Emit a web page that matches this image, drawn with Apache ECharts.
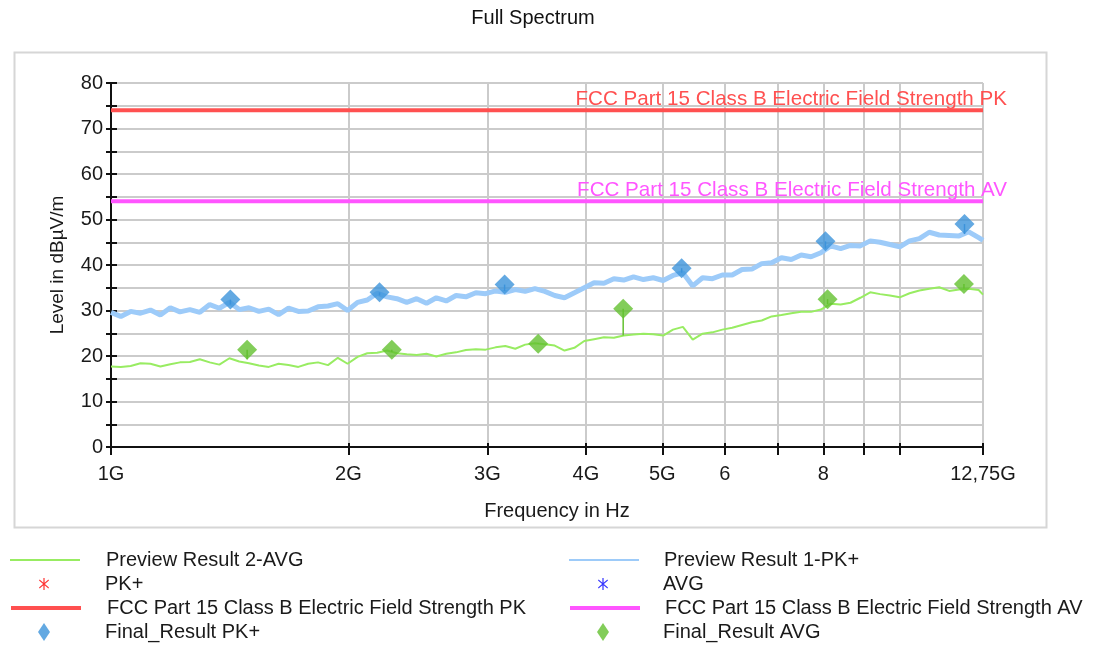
<!DOCTYPE html>
<html>
<head>
<meta charset="utf-8">
<script src="https://cdn.jsdelivr.net/npm/echarts@6/dist/echarts.min.js"></script>
<style>
html,body{margin:0;padding:0;background:#fff;}
#chart{width:1102px;height:647px;}
</style>
</head>
<body>
<div id="chart"></div>
<script>
// ---------- DATA ----------
const freqGHz = [1.000,1.029,1.059,1.090,1.122,1.155,1.189,1.223,1.259,1.296,
1.334,1.372,1.413,1.454,1.496,1.540,1.585,1.631,1.679,1.728,
1.778,1.830,1.884,1.939,1.995,2.054,2.113,2.175,2.239,2.304,
2.371,2.441,2.512,2.585,2.661,2.738,2.818,2.901,2.985,3.073,
3.162,3.255,3.350,3.447,3.548,3.652,3.758,3.868,3.981,4.097,
4.217,4.340,4.467,4.597,4.732,4.870,5.012,5.158,5.309,5.464,
5.623,5.788,5.957,6.131,6.310,6.494,6.683,6.879,7.079,7.286,
7.499,7.718,7.943,8.175,8.414,8.660,8.913,9.173,9.441,9.716,
10.00,10.29,10.59,10.90,11.22,11.55,11.89,12.23,12.59,12.75];

const pkTrace = [29.6,28.7,29.8,29.4,30.1,29.0,30.6,29.7,30.2,29.6,
31.3,30.5,31.8,30.2,30.6,29.8,30.3,29.1,30.5,29.8,
29.9,30.8,31.0,31.5,30.0,31.8,32.3,33.8,33.0,32.6,
31.8,32.6,31.6,32.8,32.1,33.3,33.0,33.9,33.7,34.3,
34.0,34.6,34.2,34.8,34.2,33.3,32.8,33.9,35.0,36.1,
36.0,37.0,36.7,37.4,36.8,37.2,36.6,37.7,38.3,35.4,
37.2,37.0,37.8,37.8,39.0,39.1,40.3,40.5,41.6,41.2,
42.2,41.8,42.7,44.2,43.6,44.3,44.2,45.3,45.0,44.5,
44.0,45.3,45.8,47.2,46.6,46.5,46.4,47.3,46.0,45.4];

const avgTrace = [17.7,17.6,17.8,18.4,18.3,17.7,18.2,18.6,18.7,19.3,
18.6,18.1,19.5,18.8,18.4,17.9,17.6,18.3,18.0,17.6,
18.3,18.6,18.0,19.6,18.3,19.8,20.6,20.7,21.2,20.6,
20.4,20.2,20.5,19.9,20.5,20.8,21.3,21.5,21.4,21.9,
22.2,21.6,22.5,22.8,22.6,22.3,21.2,21.8,23.3,23.7,
24.1,24.0,24.5,24.7,24.9,24.8,24.5,25.8,26.4,23.6,
24.9,25.2,25.8,26.2,26.8,27.4,27.8,28.7,29.0,29.4,
29.7,29.7,30.2,31.5,31.3,31.7,32.8,34.0,33.6,33.3,
32.9,33.8,34.4,34.8,35.1,34.3,34.6,34.8,34.5,33.5];

const finalPkFreq = [1.417, 2.19, 3.155, 5.29, 8.05, 12.08];
const finalPkLevel = [32.4, 34.0, 35.7, 39.3, 45.2, 49.0];
const pkTraceAtFinal = [31.3, 33.3, 34.3, 38.3, 43.6, 46.8];

const finalAvgFreq = [1.488, 2.27, 3.48, 4.46, 8.10, 12.06];
const finalAvgLevel = [21.4, 21.4, 22.7, 30.4, 32.5, 35.8];
const avgTraceAtFinal = [19.3, 20.9, 22.8, 24.5, 31.4, 34.8];

const limitPK = 74;
const limitAV = 54;
const limitPkName = 'FCC Part 15 Class B Electric Field Strength PK';
const limitAvName = 'FCC Part 15 Class B Electric Field Strength AV';

const xMin = 1, xMax = 12.75;
const xTickValues = [1, 2, 3, 4, 5, 6, 7, 8, 9, 10, 12.75];
const xTickLabels = ['1G', '2G', '3G', '4G', '5G', '6', '', '8', '', '', '12,75G'];
const yMin = 0, yMax = 80, yStep = 5;

const legendCol1 = ['Preview Result 2-AVG', 'PK+', limitPkName, 'Final_Result PK+'];
const legendCol2 = ['Preview Result 1-PK+', 'AVG', limitAvName, 'Final_Result AVG'];

// ---------- STYLE ----------
const FONT = 'Liberation Sans, Arial, sans-serif';
const TXT = '#1a1a1a';
const C_PK_TRACE = '#9dcbf9';
const C_AVG_TRACE = '#98ec62';
const C_PK_FINAL = '#3c93db';
const C_AVG_FINAL = '#63c130';
const C_LIM_PK = '#ff5050';
const C_LIM_AV = '#ff55ff';
const ASTERISK = 'path://M4.4,0H5.6V12H4.4Z M0,2.6L0.6,1.6L10,9.4L9.4,10.4Z M0,9.4L9.4,1.6L10,2.6L0.6,10.4Z';
const DIAMOND_LEG = 'path://M6,0L12,9L6,18L0,9Z';
const DIAMOND = 'path://M10,0L20,10L10,20L0,10Z';

const zip = (a, b) => a.map((v, i) => [v, b[i]]);

function stemSeries(freqs, tops, bottoms, color) {
  return {
    type: 'custom',
    silent: true,
    z: 4,
    data: freqs.map((f, i) => [f, tops[i], bottoms[i]]),
    renderItem: function (params, api) {
      const p1 = api.coord([api.value(0), api.value(1)]);
      const p2 = api.coord([api.value(0), api.value(2)]);
      return { type: 'line', shape: { x1: p1[0], y1: p1[1], x2: p2[0], y2: p2[1] },
               style: { stroke: color, lineWidth: 1.5 } };
    }
  };
}

function limitSeries(name, level, color) {
  return {
    name: name, type: 'line', symbol: 'none', z: 2, silent: true,
    lineStyle: { color: color, width: 4 },
    itemStyle: { color: color },
    endLabel: { show: true, formatter: name, color: color, fontSize: 20.6, fontFamily: FONT,
      align: 'right', verticalAlign: 'bottom', distance: 0, offset: [24, 0] },
    data: [[xMin, level], [xMax, level]]
  };
}

const xLabelOf = v => {
  for (let i = 0; i < xTickValues.length; i++) if (Math.abs(xTickValues[i] - v) < 1e-6) return xTickLabels[i];
  return '';
};

const LINE_ITEMS = { 'Preview Result 2-AVG': 2, 'Preview Result 1-PK+': 2 };
LINE_ITEMS[limitPkName] = 4; LINE_ITEMS[limitAvName] = 4;

// iconCenter: x centre of the legend icon, textLeft: x where the legend text starts
function legendFor(name, iconCenter, textLeft, top) {
  const item = { name: name };
  let w = 70, h = 14;
  if (LINE_ITEMS[name]) { item.lineStyle = { width: LINE_ITEMS[name] }; item.itemStyle = { opacity: 0 }; }
  else if (name === 'PK+' || name === 'AVG') { item.icon = ASTERISK; w = 10; h = 12; }
  else { item.icon = DIAMOND_LEG; w = 12; h = 18; }
  const left = Math.round(iconCenter - w / 2);
  const pad = textLeft - (left + w + 5);
  return {
    left: left, top: top, padding: 0, itemWidth: w, itemHeight: h, selectedMode: false,
    textStyle: { fontSize: 20, fontFamily: FONT, color: TXT, lineHeight: 24,
      rich: { t: { fontSize: 20, fontFamily: FONT, color: TXT, lineHeight: 24, padding: [0, 0, 0, pad] } } },
    formatter: n => '{t|' + n + '}',
    data: [item]
  };
}
const legends = [];
legendCol1.forEach((n, i) => legends.push(legendFor(n, 44, 105, 548 + i * 24)));
legendCol2.forEach((n, i) => legends.push(legendFor(n, 603, 663, 548 + i * 24)));

const chart = echarts.init(document.getElementById('chart'), null, { renderer: 'canvas' });
chart.setOption({
  animation: false,
  backgroundColor: '#fff',
  title: { text: 'Full Spectrum', left: 528, top: 3, textAlign: 'center',
    textStyle: { fontSize: 20, fontWeight: 'normal', fontFamily: FONT, color: '#111' } },
  graphic: [{ type: 'rect', left: 12, top: 50, z: -10, silent: true,
    shape: { width: 1032, height: 475 }, style: { fill: 'none', stroke: '#d6d6d6', lineWidth: 2 } }],
  grid: { left: 111, right: 119, top: 83, bottom: 200, containLabel: false },
  legend: legends,
  xAxis: [
    { type: 'log', logBase: 10, min: xMin, max: xMax, position: 'bottom',
      name: 'Frequency in Hz', nameLocation: 'middle', nameGap: 54,
      nameTextStyle: { fontSize: 20, fontFamily: FONT, color: TXT, padding: [0, 0, 0, 20] },
      axisLine: { show: true, lineStyle: { color: '#111', width: 2 } },
      axisTick: { show: true, inside: false, length: 8, customValues: xTickValues, lineStyle: { color: '#111', width: 2 } },
      axisLabel: { show: true, customValues: xTickValues, formatter: xLabelOf, margin: 17,
        fontSize: 20, fontFamily: FONT, color: TXT, showMinLabel: true, showMaxLabel: true },
      splitLine: { show: true, lineStyle: { color: '#cbcbcb', width: 2 } },
      minorTick: { show: false }, minorSplitLine: { show: false } },
    { type: 'log', logBase: 10, min: xMin, max: xMax, position: 'bottom', offset: 0,
      axisLine: { show: false },
      axisTick: { show: true, inside: true, length: 4, customValues: xTickValues, lineStyle: { color: '#111', width: 2 } },
      axisLabel: { show: false }, splitLine: { show: false } }
  ],
  yAxis: [
    { type: 'value', min: yMin, max: yMax, interval: yStep, position: 'left',
      name: 'Level in dBµV/m', nameLocation: 'middle', nameGap: 44,
      nameTextStyle: { fontSize: 19, fontFamily: FONT, color: TXT },
      axisLine: { show: true, lineStyle: { color: '#111', width: 2 } },
      axisTick: { show: true, inside: false, length: 5, lineStyle: { color: '#111', width: 2 } },
      axisLabel: { margin: 8, fontSize: 20, fontFamily: FONT, color: TXT,
        formatter: v => (v % 10 === 0 ? String(v) : '') },
      splitLine: { show: true, lineStyle: { color: '#cbcbcb', width: 2 } } },
    { type: 'value', min: yMin, max: yMax, interval: yStep, position: 'left', offset: 0,
      axisLine: { show: false },
      axisTick: { show: true, inside: true, length: 6, lineStyle: { color: '#111', width: 2 } },
      axisLabel: { show: false }, splitLine: { show: false } }
  ],
  series: [
    limitSeries(limitPkName, limitPK, C_LIM_PK),
    limitSeries(limitAvName, limitAV, C_LIM_AV),
    { name: 'Preview Result 1-PK+', type: 'line', symbol: 'none', z: 3, silent: true,
      lineStyle: { color: C_PK_TRACE, width: 5 }, itemStyle: { color: C_PK_TRACE },
      data: zip(freqGHz, pkTrace) },
    { name: 'Preview Result 2-AVG', type: 'line', symbol: 'none', z: 3, silent: true,
      lineStyle: { color: C_AVG_TRACE, width: 2 }, itemStyle: { color: C_AVG_TRACE },
      data: zip(freqGHz, avgTrace) },
    { name: 'PK+', type: 'scatter', symbol: ASTERISK, symbolSize: [10, 12], itemStyle: { color: '#ff0000' }, data: [] },
    { name: 'AVG', type: 'scatter', symbol: ASTERISK, symbolSize: [10, 12], itemStyle: { color: '#0000ff' }, data: [] },
    stemSeries(finalPkFreq, finalPkLevel, pkTraceAtFinal, C_PK_FINAL),
    stemSeries(finalAvgFreq, finalAvgLevel, avgTraceAtFinal, C_AVG_FINAL),
    { name: 'Final_Result PK+', type: 'scatter', symbol: DIAMOND, symbolKeepAspect: false, symbolSize: [20, 20], z: 5, silent: true,
      itemStyle: { color: C_PK_FINAL }, data: zip(finalPkFreq, finalPkLevel) },
    { name: 'Final_Result AVG', type: 'scatter', symbol: DIAMOND, symbolKeepAspect: false, symbolSize: [20, 20], z: 5, silent: true,
      itemStyle: { color: C_AVG_FINAL }, data: zip(finalAvgFreq, finalAvgLevel) }
  ]
});
</script>
</body>
</html>
